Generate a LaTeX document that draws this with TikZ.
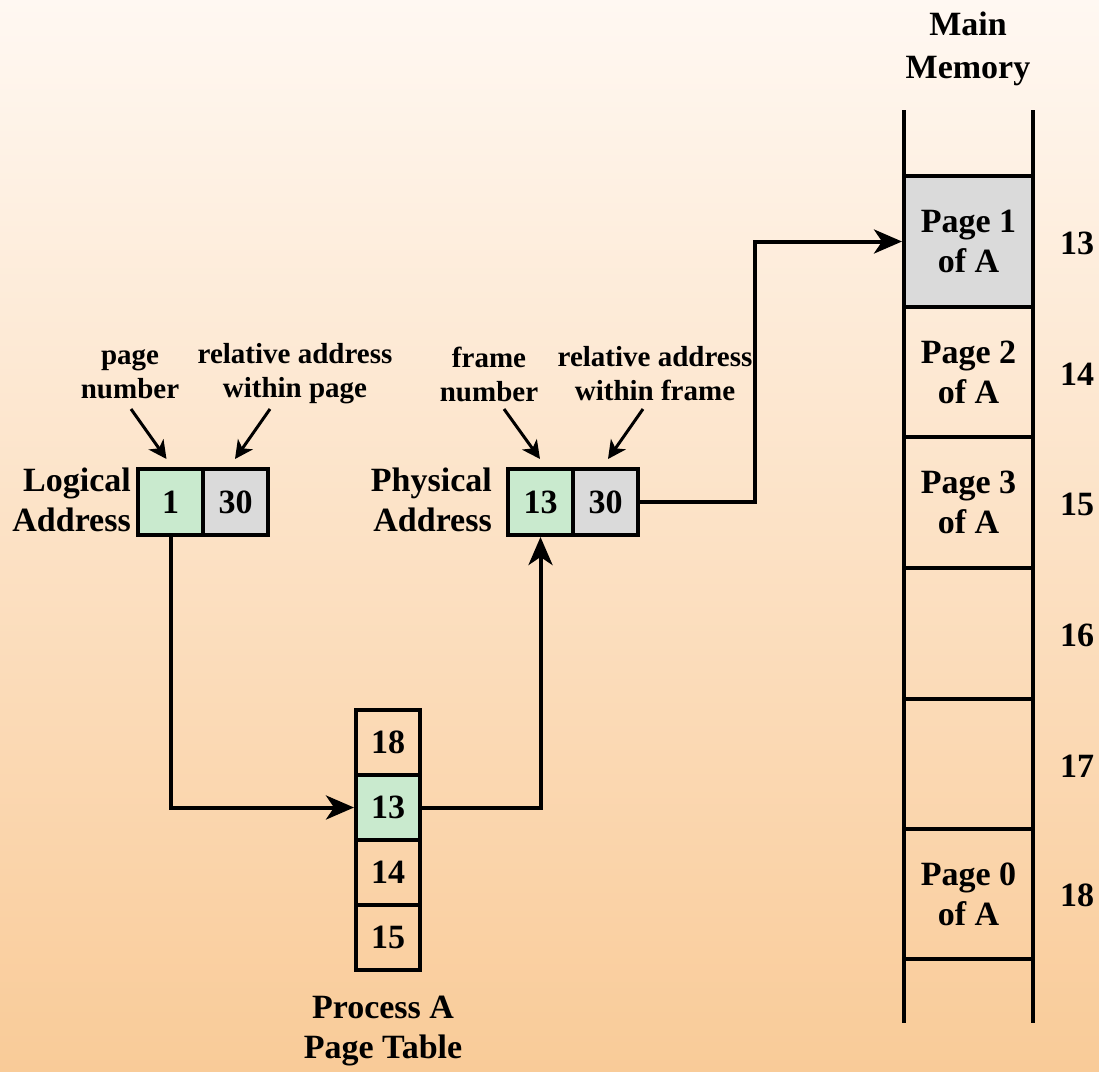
\documentclass[tikz,border=0pt]{standalone}
\usepackage{fontspec}
\setmainfont{Liberation Serif}
\usetikzlibrary{arrows.meta}
\definecolor{bgtop}{HTML}{FFF8F2}
\definecolor{bgbot}{HTML}{F9CB98}
\definecolor{cgreen}{HTML}{C9EACE}
\definecolor{cgray}{HTML}{DADADA}
\newcommand\mybigfont{\fontsize{34}{40}\selectfont\bfseries}
\newcommand\mysmallfont{\fontsize{29}{34}\selectfont\bfseries}
\begin{document}
\begin{tikzpicture}[x=1pt,y=-1pt,
  cell/.style={draw, line width=4pt, inner sep=0pt, minimum width=65pt, minimum height=66pt, font=\mybigfont},
  ptcell/.style={draw, line width=4pt, inner sep=0pt, minimum width=64pt, minimum height=65pt, font=\mybigfont},
  memcell/.style={draw, line width=4pt, inner sep=0pt, minimum width=129pt, minimum height=130.5pt, font=\mybigfont, align=center},
  biglab/.style={font=\mybigfont, inner sep=0pt, align=center},
  smlab/.style={font=\mysmallfont, inner sep=0pt, align=center},
  conn/.style={line width=4pt, -{Stealth[length=28pt, width=24pt, inset=8pt]}},
  labarrow/.style={line width=3pt, -{Stealth[length=18pt, width=18pt, inset=5pt]}}
]
\fill[top color=bgtop, bottom color=bgbot] (0,0) rectangle (1099,1071);
\useasboundingbox (0,0) rectangle (1099,1071);

% logical address
\node[cell, fill=cgreen] (l1) at (170.5,502) {1};
\node[cell, fill=cgray] (l30) at (235.5,502) {30};
\node[biglab, anchor=east, align=right] (llab) at (131,500) {Logical\\Address};

% physical address
\node[cell, fill=cgreen] (p13) at (540.5,502) {13};
\node[cell, fill=cgray] (p30) at (605.5,502) {30};
\node[biglab, anchor=east, align=right] (plab) at (492,500) {Physical\\Address};

% small labels
\node[smlab] (pn) at (130,374) {page\\number};
\node[smlab] (rap) at (295,374) {relative address\\within page};
\node[smlab] (fn) at (489,374) {frame\\number};
\node[smlab] (raf) at (655,374) {relative address\\within frame};
\coordinate (pna) at (131,409);
\coordinate (rapa) at (270,409);
\coordinate (fna) at (504,409);
\coordinate (rafa) at (643,409);
\draw[labarrow] (pna) -- ([xshift=-4pt,yshift=8pt]l1.north);
\draw[labarrow] (rapa) -- ([xshift=-0.5pt,yshift=8pt]l30.north);
\draw[labarrow] (fna) -- ([xshift=-0.5pt,yshift=8pt]p13.north);
\draw[labarrow] (rafa) -- ([xshift=2.5pt,yshift=8pt]p30.north);

% page table
\node[ptcell] (t18) at (388,742.5) {18};
\node[ptcell, fill=cgreen] (t13) at (388,807.5) {13};
\node[ptcell] (t14) at (388,872.5) {14};
\node[ptcell] (t15) at (388,937.5) {15};
\node[biglab] (ptlab) at (383,1031) {Process A\\Page Table};

% main memory
\node[biglab, text depth=0pt] (mmlab) at (968,45) {Main\\[3pt]Memory};
\node[memcell, fill=cgray] (m13) at (968.5,241.5) {Page 1\\of A};
\node[memcell] (m14) at (968.5,372) {Page 2\\of A};
\node[memcell] (m15) at (968.5,502.5) {Page 3\\of A};
\node[memcell] (m16) at (968.5,633.5) {};
\node[memcell] (m17) at (968.5,764) {};
\node[memcell] (m18) at (968.5,894) {Page 0\\of A};
\coordinate (mlt) at (904,110);
\coordinate (mlb) at (904,1023);
\coordinate (mrt) at (1033,110);
\coordinate (mrb) at (1033,1023);
\draw[line width=4pt] (mlt) -- (mlb);
\draw[line width=4pt] (mrt) -- (mrb);
\node[biglab] (n13) at (1077,243) {13};
\node[biglab] (n14) at (1077,374) {14};
\node[biglab] (n15) at (1077,504) {15};
\node[biglab] (n16) at (1077,635) {16};
\node[biglab] (n17) at (1077,766) {17};
\node[biglab] (n18) at (1077,895) {18};

% connectors
\coordinate (c1) at (755,400);
\draw[conn] (l1.south) |- (t13.west);
\draw[conn] (t13.east) -| (p13.south);
\draw[conn] (p30.east) -| (c1) |- (m13.west);
\end{tikzpicture}
\end{document}
